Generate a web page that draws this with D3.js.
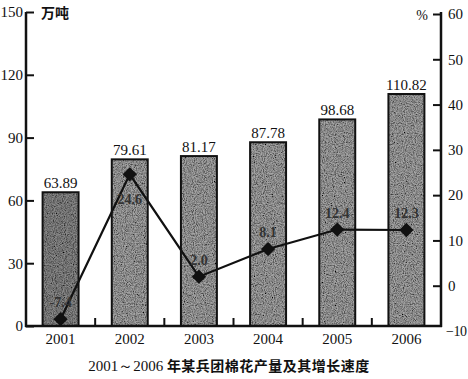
<!DOCTYPE html>
<html><head><meta charset="utf-8">
<script src="https://cdn.jsdelivr.net/npm/d3@7/dist/d3.min.js"></script>
<style>html,body{margin:0;padding:0;background:#fff;}svg{display:block;}</style>
</head><body>
<script>
const years = ["2001","2002","2003","2004","2005","2006"];
const output = [63.89, 79.61, 81.17, 87.78, 98.68, 110.82];
const growth = [-7.4, 24.6, 2.0, 8.1, 12.4, 12.3];
const leftTicks = [0, 30, 60, 90, 120, 150];
const rightTicks = [-10, 0, 10, 20, 30, 40, 50, 60];
const titleYears = "2001～2006";
const titleText = "年某兵团棉花产量及其增长速度";

const W = 468, H = 379;
const svg = d3.select("body").append("svg").attr("width", W).attr("height", H);
const defs = svg.append("defs");
const f = defs.append("filter").attr("id","grain").attr("x",0).attr("y",0).attr("width","100%").attr("height","100%");
f.append("feTurbulence").attr("type","fractalNoise").attr("baseFrequency",0.9).attr("numOctaves",2).attr("seed",4).attr("result","n");
f.append("feColorMatrix").attr("in","n").attr("type","matrix")
 .attr("values","0 0 0 0 0  0 0 0 0 0  0 0 0 0 0  0 0 0 -1.8 1.25").attr("result","a");
f.append("feComposite").attr("in","a").attr("in2","SourceGraphic").attr("operator","in").attr("result","m");
const mg = f.append("feMerge");
mg.append("feMergeNode").attr("in","SourceGraphic");
mg.append("feMergeNode").attr("in","m");

const xL = 26, xR = 441, yB = 326, yT = 12;
const serif = "'Liberation Serif', 'DejaVu Serif', serif";
const cjk = "'Noto Sans CJK SC', sans-serif";

const x = d3.scaleBand().domain(years).range([xL, xR]).paddingInner(0.48).paddingOuter(0.24);
const yl = d3.scaleLinear().domain([0, 150]).range([yB, yT]);
const yr = d3.scaleLinear().domain([-10, 60]).range([331, 14]);

// bars
const bars = svg.append("g");
bars.selectAll("rect.b").data(output).join("rect").attr("class","b")
  .attr("x", (d,i) => x(years[i])).attr("y", d => yl(d))
  .attr("width", x.bandwidth()).attr("height", d => yB - yl(d))
  .attr("fill", (d,i) => i === 0 ? "#8a8a8a" : "#a6a6a6").attr("filter", "url(#grain)");
bars.selectAll("rect.o").data(output).join("rect").attr("class","o")
  .attr("x", (d,i) => x(years[i])).attr("y", d => yl(d))
  .attr("width", x.bandwidth()).attr("height", d => yB - yl(d))
  .attr("fill", "none").attr("stroke", "#111").attr("stroke-width", 2);
bars.selectAll("text").data(output).join("text")
  .attr("x", (d,i) => x(years[i]) + x.bandwidth()/2).attr("y", d => yl(d) - 4)
  .attr("text-anchor","middle").attr("font-family", serif).attr("font-size", 15).attr("fill","#111")
  .text(d => d.toFixed(2));

// left axis
const ax = svg.append("g").attr("transform", `translate(${xL},0)`)
  .call(d3.axisRight(yl).tickValues(leftTicks).tickSize(8).tickFormat(d3.format("d")));
ax.select(".domain").remove();
ax.selectAll(".tick line").attr("stroke","#111").attr("stroke-width",2);
ax.selectAll(".tick text").attr("x",-3).attr("text-anchor","end").attr("font-family",serif).attr("font-size",15).attr("fill","#111");
svg.append("line").attr("x1",xL).attr("x2",xL).attr("y1",yT).attr("y2",yB+1).attr("stroke","#111").attr("stroke-width",2.5);
svg.append("text").attr("x",41).attr("y",yT+6).attr("font-family",cjk).attr("font-weight","bold").attr("font-size",14).attr("fill","#111").text("万吨");

// right axis
const ar = svg.append("g").attr("transform", `translate(${xR},0)`)
  .call(d3.axisLeft(yr).tickValues(rightTicks).tickSize(8).tickFormat(d3.format("d")));
ar.select(".domain").remove();
ar.selectAll(".tick line").attr("stroke","#111").attr("stroke-width",2);
ar.selectAll(".tick").filter(d => d === -10).select("line").remove();
ar.selectAll(".tick text").attr("x",7).attr("text-anchor","start").attr("font-family",serif).attr("font-size",15).attr("fill","#111");
ar.selectAll(".tick").filter(d => d === -10).select("text").attr("x",5).attr("font-size",14).attr("letter-spacing",-0.5);
svg.append("line").attr("x1",xR).attr("x2",xR).attr("y1",yT).attr("y2",yB+1).attr("stroke","#111").attr("stroke-width",2.5);
svg.append("text").attr("x",428).attr("y",yT+8).attr("text-anchor","end").attr("font-family",serif).attr("font-size",14).attr("fill","#111").text("%");

// x axis
svg.append("line").attr("x1",xL-1).attr("x2",xR+1).attr("y1",yB).attr("y2",yB).attr("stroke","#111").attr("stroke-width",2.5);
const bounds = years.slice(1).map(y => x(y) - x.step()*x.paddingInner()/2);
svg.append("g").selectAll("line").data(bounds).join("line")
  .attr("x1", d => d).attr("x2", d => d).attr("y1", yB).attr("y2", yB-8)
  .attr("stroke","#111").attr("stroke-width",2);
svg.append("g").selectAll("text").data(years).join("text")
  .attr("x", d => x(d) + x.bandwidth()/2).attr("y", yB + 18)
  .attr("text-anchor","middle").attr("font-family",serif).attr("font-size",15).attr("fill","#111").text(d => d);

// line
const cx = i => x(years[i]) + x.bandwidth()/2;
const line = d3.line().x((d,i) => cx(i)).y(d => yr(d));
svg.append("path").datum(growth).attr("d", line).attr("fill","none").attr("stroke","#111").attr("stroke-width",2.2);
svg.append("g").selectAll("text").data(growth).join("text")
  .attr("x", (d,i) => cx(i)).attr("y", (d,i) => i === 1 ? yr(d) + 30 : yr(d) - 12)
  .attr("text-anchor","middle").attr("font-family",serif).attr("font-size",14).attr("font-weight","bold")
  .attr("fill","#333").text(d => d.toFixed(1));
svg.append("g").selectAll("path").data(growth).join("path")
  .attr("d", d3.symbol().type(d3.symbolDiamond2).size(130))
  .attr("transform", (d,i) => `translate(${cx(i)},${yr(d)})`)
  .attr("fill","#111");

// title
const t = svg.append("text").attr("x", 229).attr("y", 371).attr("text-anchor","middle").attr("fill","#111");
t.append("tspan").attr("font-family",serif).attr("font-size",15).text(titleYears + " ");
t.append("tspan").attr("font-family",cjk).attr("font-weight","bold").attr("font-size",14).attr("letter-spacing",0.5).text(titleText);
</script>
</body></html>
